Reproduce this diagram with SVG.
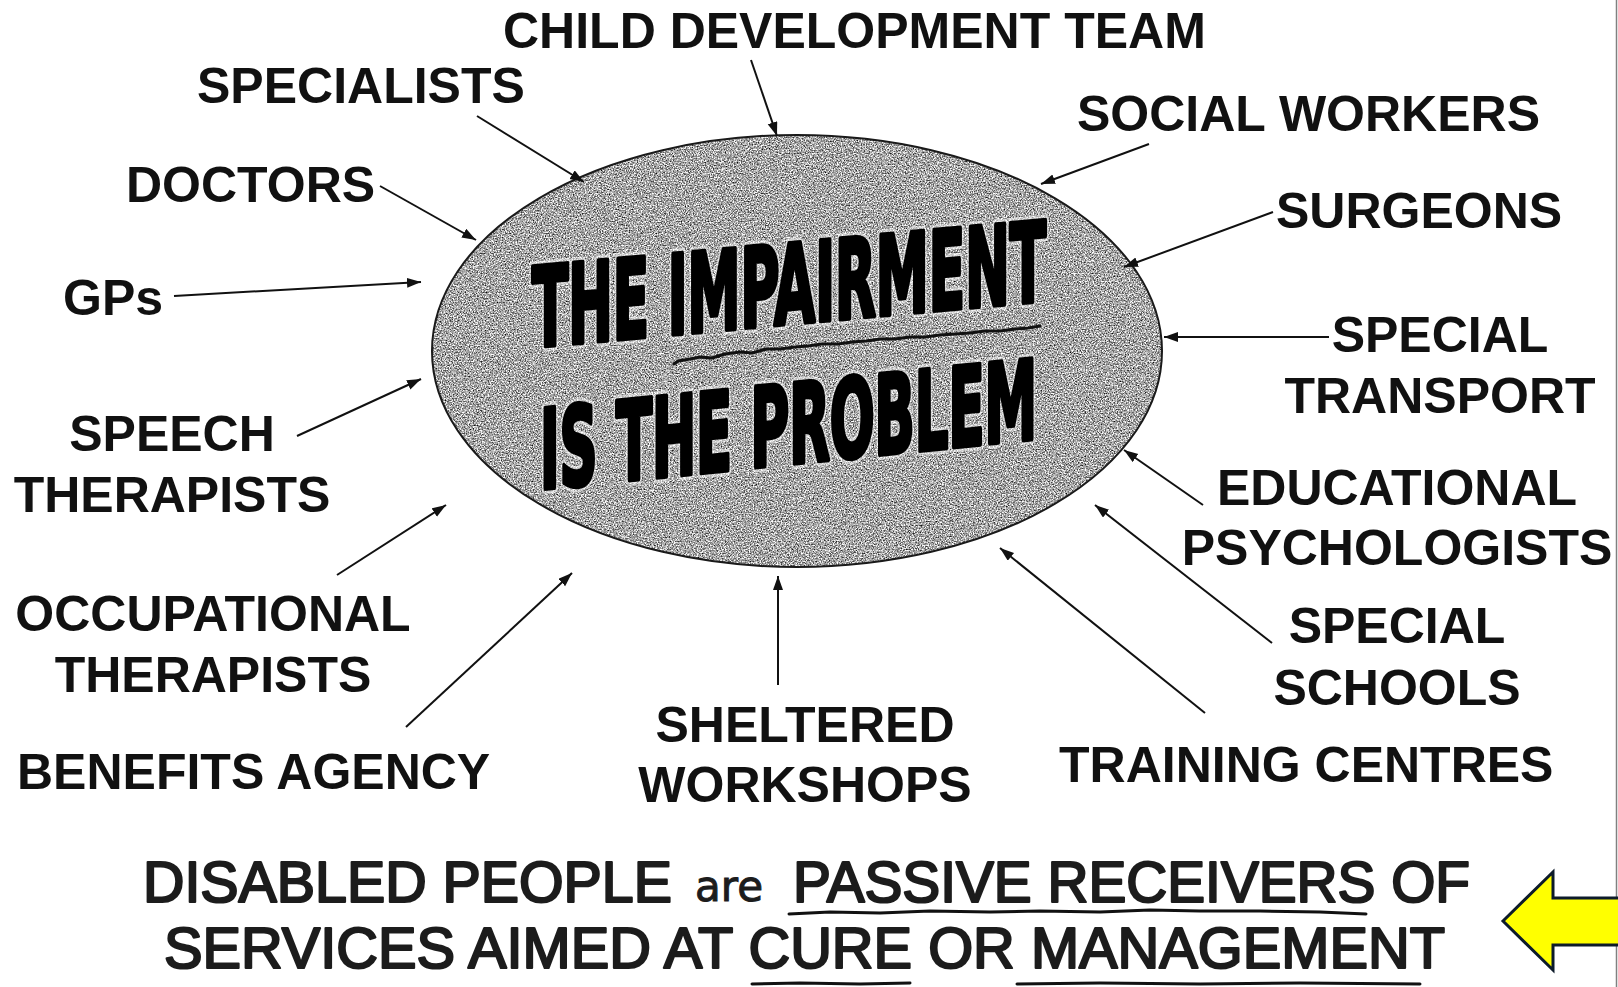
<svg xmlns="http://www.w3.org/2000/svg" width="1618" height="987" viewBox="0 0 1618 987">
  <style>
    .lbl { font-family: "Liberation Sans", Arial, sans-serif; font-weight: bold; font-size: 50px; fill: #111; }
    .mid { text-anchor: middle; }
    .conn { stroke: #111; stroke-width: 2; fill: none; marker-end: url(#head); }
    .big { font-family: "Liberation Sans Narrow", "DejaVu Sans Condensed", "Liberation Sans", sans-serif; font-weight: bold; font-size: 110px; }
    .halo { fill: #fff; stroke: #fff; stroke-width: 11; stroke-linejoin: round; opacity: 0.5; }
    .ink { fill: #000; stroke: #000; stroke-width: 5; stroke-linejoin: round; }
    .foot { font-family: "Liberation Sans", Arial, sans-serif; font-size: 57px; fill: #1c1c1c; stroke: #1c1c1c; stroke-width: 2.2; stroke-linejoin: round; }
    .hand { fill: none; stroke: #111; stroke-width: 3; stroke-linecap: round; stroke-linejoin: round; }
  </style>
  <defs>
    <marker id="head" markerUnits="userSpaceOnUse" markerWidth="16" markerHeight="12" refX="14" refY="5" orient="auto">
      <path d="M0,0 L14,5 L0,10 z" fill="#111"/>
    </marker>
    <!-- stippled grey fill for the ellipse -->
    <filter id="grain" x="0" y="0" width="100%" height="100%" color-interpolation-filters="sRGB">
      <feTurbulence type="fractalNoise" baseFrequency="0.75" numOctaves="2" seed="7" result="n"/>
      <feColorMatrix in="n" type="matrix" values="1.7 0 0 0 -0.2  1.7 0 0 0 -0.2  1.7 0 0 0 -0.2  0 0 0 0 1" result="g"/>
      <feComposite in="g" in2="SourceGraphic" operator="in"/>
    </filter>
  </defs>

  <rect width="1618" height="987" fill="#fff"/>
  <line x1="1616.5" y1="0" x2="1616.5" y2="987" stroke="#808080" stroke-width="1.5"/>

  <!-- central ellipse -->
  <g id="centre">
    <ellipse cx="797" cy="351" rx="365" ry="216" fill="#a6a6a6"/>
    <ellipse cx="797" cy="351" rx="365" ry="216" fill="#a6a6a6" filter="url(#grain)"/>
    <ellipse cx="797" cy="351" rx="365" ry="216" fill="none" stroke="#1a1a1a" stroke-width="2"/>
    <g transform="translate(532,347) skewY(-5.18)">
      <text class="big halo" x="0" y="0" textLength="514" lengthAdjust="spacingAndGlyphs">THE IMPAIRMENT</text>
      <text class="big ink" x="0" y="0" textLength="514" lengthAdjust="spacingAndGlyphs">THE IMPAIRMENT</text>
    </g>
    <g transform="translate(540,489) skewY(-5.8)">
      <text class="big halo" x="0" y="0" textLength="497" lengthAdjust="spacingAndGlyphs">IS THE PROBLEM</text>
      <text class="big ink" x="0" y="0" textLength="497" lengthAdjust="spacingAndGlyphs">IS THE PROBLEM</text>
    </g>
    <path class="hand" d="M674,364 L678,361 L690,359 L700,357 L712,358 L725,354 L740,352 L752,353 L766,349 L780,349 L795,347 L808,346 L822,344 L838,344 L852,342 L866,341 L880,339 L895,339 L910,337 L925,337 L940,335 L955,334 L970,333 L985,331 L1000,331 L1015,329 L1028,328 L1040,326"/>
  </g>

  <!-- connectors -->
  <g id="connectors">
    <line class="conn" x1="751" y1="60" x2="777" y2="136"/>
    <line class="conn" x1="477" y1="116" x2="584" y2="182"/>
    <line class="conn" x1="380" y1="186" x2="476" y2="240"/>
    <line class="conn" x1="174" y1="296" x2="421" y2="282"/>
    <line class="conn" x1="297" y1="436" x2="421" y2="379"/>
    <line class="conn" x1="337" y1="575" x2="446" y2="505"/>
    <line class="conn" x1="406" y1="727" x2="572" y2="573"/>
    <line class="conn" x1="778" y1="685" x2="778" y2="576"/>
    <line class="conn" x1="1205" y1="713" x2="1000" y2="548"/>
    <line class="conn" x1="1272" y1="643" x2="1095" y2="505"/>
    <line class="conn" x1="1203" y1="505" x2="1124" y2="450"/>
    <line class="conn" x1="1329" y1="337" x2="1164" y2="337"/>
    <line class="conn" x1="1273" y1="212" x2="1124" y2="267"/>
    <line class="conn" x1="1149" y1="144" x2="1041" y2="184"/>
  </g>

  <!-- surrounding labels -->
  <g id="child-development-team"><text class="lbl" x="503" y="48">CHILD DEVELOPMENT TEAM</text></g>
  <g id="specialists"><text class="lbl" x="197" y="103">SPECIALISTS</text></g>
  <g id="doctors"><text class="lbl" x="126" y="202">DOCTORS</text></g>
  <g id="gps"><text class="lbl" x="63" y="315">GPs</text></g>
  <g id="speech-therapists">
    <text class="lbl mid" x="172" y="451">SPEECH</text>
    <text class="lbl mid" x="172" y="512">THERAPISTS</text>
  </g>
  <g id="occupational-therapists">
    <text class="lbl mid" x="213" y="631">OCCUPATIONAL</text>
    <text class="lbl mid" x="213" y="692">THERAPISTS</text>
  </g>
  <g id="benefits-agency"><text class="lbl" x="17" y="789">BENEFITS AGENCY</text></g>
  <g id="sheltered-workshops">
    <text class="lbl mid" x="805" y="742">SHELTERED</text>
    <text class="lbl mid" x="805" y="802">WORKSHOPS</text>
  </g>
  <g id="training-centres"><text class="lbl" x="1059" y="782">TRAINING CENTRES</text></g>
  <g id="special-schools">
    <text class="lbl mid" x="1397" y="643">SPECIAL</text>
    <text class="lbl mid" x="1397" y="705">SCHOOLS</text>
  </g>
  <g id="educational-psychologists">
    <text class="lbl mid" x="1397" y="505">EDUCATIONAL</text>
    <text class="lbl mid" x="1397" y="565">PSYCHOLOGISTS</text>
  </g>
  <g id="special-transport">
    <text class="lbl mid" x="1440" y="352">SPECIAL</text>
    <text class="lbl mid" x="1440" y="413">TRANSPORT</text>
  </g>
  <g id="surgeons"><text class="lbl" x="1276" y="228">SURGEONS</text></g>
  <g id="social-workers"><text class="lbl" x="1077" y="131">SOCIAL WORKERS</text></g>

  <!-- statement at the foot -->
  <g id="statement">
    <text class="foot" x="143" y="902" textLength="529" lengthAdjust="spacingAndGlyphs">DISABLED PEOPLE</text>
    <text x="695" y="901" textLength="68" lengthAdjust="spacingAndGlyphs" font-family="DejaVu Sans, sans-serif" font-size="42" fill="#1c1c1c" stroke="#1c1c1c" stroke-width="1">are</text>
    <text class="foot" x="793" y="902" textLength="677" lengthAdjust="spacingAndGlyphs">PASSIVE RECEIVERS OF</text>
    <text class="foot" x="164" y="968" textLength="1281" lengthAdjust="spacingAndGlyphs">SERVICES AIMED AT CURE OR MANAGEMENT</text>
    <path class="hand" d="M789,914 L830,912 L880,913 L930,911 L990,912 L1040,911 L1100,912 L1150,910 L1200,911 L1260,911 L1320,912 L1366,914"/>
    <path class="hand" d="M752,984 L800,983 L860,984 L910,983"/>
    <path class="hand" d="M1017,984 L1100,983 L1200,984 L1300,983 L1420,984"/>
  </g>

  <!-- pointer -->
  <g id="pointer">
    <path d="M1503,921 L1553,872 L1553,898 L1622,898 L1622,945 L1553,945 L1553,970 Z" fill="#ffff00" stroke="#0d1b2a" stroke-width="3" stroke-linejoin="miter"/>
  </g>
</svg>
